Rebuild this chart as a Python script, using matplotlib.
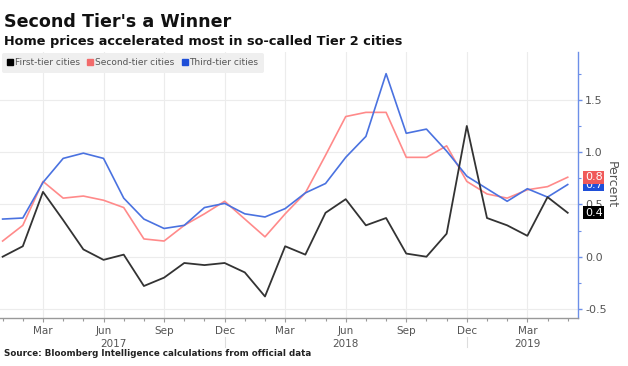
import numpy as np
import matplotlib as mpl
mpl.use('Agg')
import matplotlib.pyplot as plt
from matplotlib.lines import Line2D

# monthly index, 0 = Jan 2017 ... 28 = May 2019
months = np.arange(29)

first_tier  = [0.00,0.10,0.62,0.35,0.07,-0.03,0.02,-0.28,-0.20,-0.06,-0.08,-0.06,-0.15,-0.38,0.10,
               0.02,0.42,0.55,0.30,0.37,0.03,0.00,0.22,1.25,0.37,0.30,0.20,0.57,0.42]
second_tier = [0.15,0.30,0.72,0.56,0.58,0.54,0.47,0.17,0.15,0.30,0.41,0.53,0.36,0.19,0.41,
               0.61,0.97,1.34,1.38,1.38,0.95,0.95,1.06,0.72,0.60,0.56,0.64,0.67,0.76]
third_tier  = [0.36,0.37,0.71,0.94,0.99,0.94,0.56,0.36,0.27,0.30,0.47,0.51,0.41,0.38,0.46,
               0.61,0.70,0.95,1.15,1.75,1.18,1.22,1.01,0.77,0.65,0.53,0.65,0.57,0.69]

series_names = ['First-tier cities','Second-tier cities','Third-tier cities']
last_labels  = ['0.4','0.8','0.7']

tick_pos    = [2,5,8,11,14,17,20,23,26]
tick_labels = ['Mar','Jun','Sep','Dec','Mar','Jun','Sep','Dec','Mar']
year_pos    = [5.5,17,26]
year_labels = ['2017','2018','2019']

line_colors  = ['#333333','#ff8a8a','#4a72e0']
mark_colors  = ['#000000','#f26b6b','#1f4fd8']
box_colors   = ['#000000','#f05a5a','#1f4fd8']
axis_blue    = '#6d8fe8'
grid_c       = '#ececec'
txt_c        = '#555555'

fig = plt.figure(figsize=(6.28,3.66),dpi=100)
ax = fig.add_axes([0.0,0.1311,0.9204,0.7268])

# black drawn last so it sits on top like the reference
ax.plot(months,second_tier,color=line_colors[1],lw=1.2,zorder=3)
ax.plot(months,third_tier,color=line_colors[2],lw=1.2,zorder=3)
ax.plot(months,first_tier,color=line_colors[0],lw=1.3,zorder=4)

ax.set_xlim(-0.13,28.51)
ax.set_ylim(-0.586,1.957)

ax.yaxis.tick_right()
ax.yaxis.set_label_position('right')
ax.set_yticks([-0.5,0.0,0.5,1.0,1.5])
ax.set_yticks(np.arange(-0.5,1.9,0.25),minor=True)
ax.set_yticklabels(['-0.5','0.0','0.5','1.0','1.5'])
ax.tick_params(axis='y',which='major',length=3,width=1,color=axis_blue,labelsize=8,labelcolor=txt_c,pad=2)
ax.tick_params(axis='y',which='minor',length=2,width=0.8,color=axis_blue)
ax.set_ylabel('Percent',rotation=270,fontsize=9,color=txt_c,labelpad=8)

ax.set_xticks(tick_pos)
ax.set_xticklabels(tick_labels)
ax.set_xticks(months,minor=True)
ax.tick_params(axis='x',which='major',length=3,width=0.8,color='#999999',labelsize=7.5,labelcolor=txt_c,pad=3)
ax.tick_params(axis='x',which='minor',length=2,width=0.8,color='#999999')

for yr,lab in zip(year_pos,year_labels):
  ax.text(yr,-0.098,lab,transform=ax.get_xaxis_transform(),ha='center',va='center',fontsize=7.5,color=txt_c)
for sep in [11,23]:
  ax.plot([sep,sep],[-0.07,-0.11],transform=ax.get_xaxis_transform(),color='#dddddd',lw=0.8,clip_on=False)

ax.grid(True,which='major',color=grid_c,lw=0.8,zorder=0)
ax.set_axisbelow(True)
for s in ['top','left']:
  ax.spines[s].set_visible(False)
ax.spines['right'].set_color(axis_blue)
ax.spines['right'].set_linewidth(1.0)
ax.spines['bottom'].set_color('#999999')
ax.spines['bottom'].set_linewidth(1.0)

# value tags at the right end
last_vals = [first_tier[-1],second_tier[-1],third_tier[-1]]
for k in [2,1,0]:
  ax.text(1.012,last_vals[k],last_labels[k],transform=ax.get_yaxis_transform(),ha='left',va='center',
          fontsize=8,color='white',clip_on=False,zorder=10,
          bbox=dict(boxstyle='square,pad=0.15',fc=box_colors[k],ec='none'))

# legend
handles = [Line2D([],[],ls='none',marker='s',ms=4,mfc=c,mec=c) for c in mark_colors]
leg = fig.legend(handles,series_names,loc='upper left',bbox_to_anchor=(0.003,0.856),ncol=3,fontsize=6.5,
                 frameon=True,handlelength=0.6,handletextpad=0.2,columnspacing=0.9,borderpad=0.6,
                 borderaxespad=0)
leg.get_frame().set_facecolor('#efefef')
leg.get_frame().set_edgecolor('none')
leg.get_frame().set_alpha(1)
for t in leg.get_texts():
  t.set_color(txt_c)

fig.text(0.006,0.925,"Second Tier's a Winner",fontsize=12.6,fontweight='bold',color='#111111',va='baseline')
fig.text(0.006,0.876,'Home prices accelerated most in so-called Tier 2 cities',fontsize=9.3,fontweight='bold',
         color='#111111',va='baseline')
fig.text(0.006,0.028,'Source: Bloomberg Intelligence calculations from official data',fontsize=6.3,
         fontweight='bold',color='#222222',va='baseline')

plt.savefig('out.png',dpi=100)
plt.close()
